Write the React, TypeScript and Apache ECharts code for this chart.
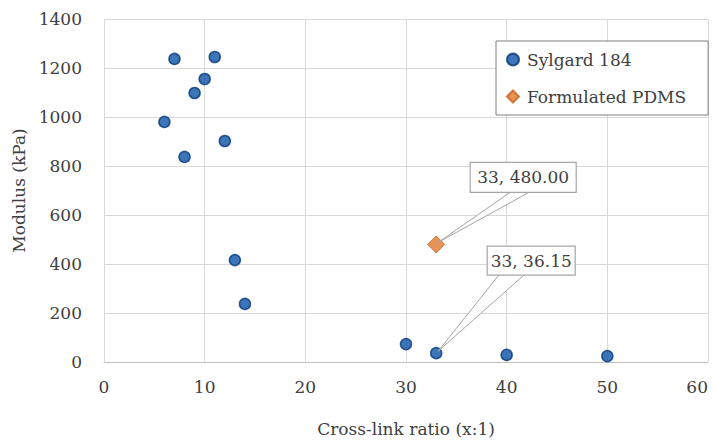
import React, { useEffect, useRef } from "react";
import * as echarts from "echarts";

const sylgardX = [6, 7, 8, 9, 10, 11, 12, 13, 14, 30, 33, 40, 50];
const sylgardY = [980, 1237, 837, 1098, 1155, 1245, 902, 416, 237, 73, 36.15, 29, 24];
const pdmsX = [33];
const pdmsY = [480];
const xTicks = { min: 0, max: 60, interval: 10 };
const yTicks = { min: 0, max: 1400, interval: 200 };
const callouts = [
  { series: "Formulated PDMS", x: 33, y: 480, text: "33, 480.00", dx: 34, dy: -82, w: 106, h: 30, b0: 0.39, b1: 0.57 },
  { series: "Sylgard 184", x: 33, y: 36.15, text: "33, 36.15", dx: 51, dy: -107, w: 88, h: 29, b0: 0.14, b1: 0.43 },
];

const FONT = "DejaVu Serif";
const FS = 17;

export default function App() {
  const ref = useRef<HTMLDivElement>(null);
  useEffect(() => {
    if (!ref.current) return;
    const chart = echarts.init(ref.current, undefined, { renderer: "svg" });
    chart.setOption({
      animation: false,
      textStyle: { fontFamily: FONT },
      grid: { left: 104, right: 5, top: 19, bottom: 83, containLabel: false, outerBoundsMode: "none" },
      xAxis: {
        type: "value",
        min: xTicks.min,
        max: xTicks.max,
        interval: xTicks.interval,
        name: "Cross-link ratio (x:1)",
        nameLocation: "middle",
        nameGap: 58,
        nameTextStyle: { fontSize: FS, color: "#404040", fontFamily: FONT },
        axisLine: { show: true, lineStyle: { color: "#bfbfbf" } },
        axisTick: { show: false },
        axisLabel: {
          fontSize: FS,
          color: "#404040",
          margin: 16,
          fontFamily: FONT,
          alignMaxLabel: "right",
          formatter: (v: number) => String(v),
        },
        splitLine: { show: true, lineStyle: { color: "#d9d9d9" } },
      },
      yAxis: {
        type: "value",
        min: yTicks.min,
        max: yTicks.max,
        interval: yTicks.interval,
        name: "Modulus (kPa)",
        nameLocation: "middle",
        nameGap: 76,
        nameTextStyle: { fontSize: FS, color: "#404040", fontFamily: FONT },
        axisLine: { show: false },
        axisTick: { show: false },
        axisLabel: { fontSize: FS, color: "#404040", margin: 22, fontFamily: FONT, formatter: (v: number) => String(v) },
        splitLine: { show: true, lineStyle: { color: "#d9d9d9" } },
      },
      legend: {
        orient: "vertical",
        left: 496,
        top: 41,
        padding: [10, 22, 10, 10],
        itemGap: 20,
        itemWidth: 12,
        itemHeight: 12,
        borderColor: "#7f7f7f",
        borderWidth: 1,
        backgroundColor: "#ffffff",
        textStyle: { fontSize: FS, color: "#404040", fontFamily: FONT, padding: [0, 0, 0, 3] },
        data: [
          { name: "Sylgard 184", icon: "circle" },
          { name: "Formulated PDMS", icon: "diamond" },
        ],
      },
      series: [
        {
          name: "Sylgard 184",
          type: "scatter",
          symbol: "circle",
          symbolSize: 11,
          itemStyle: { color: "#0d52a8", borderColor: "#083878", borderWidth: 1.5 },
          data: sylgardX.map((x, i) => [x, sylgardY[i]]),
          z: 3,
        },
        {
          name: "Formulated PDMS",
          type: "scatter",
          symbol: "diamond",
          symbolSize: 17,
          itemStyle: { color: "#e4772a", borderColor: "#c8601a", borderWidth: 1 },
          data: pdmsX.map((x, i) => [x, pdmsY[i]]),
          z: 3,
        },
      ],
    });
    const graphics: any[] = [];
    callouts.forEach((c) => {
      const p = chart.convertToPixel({ seriesName: c.series }, [c.x, c.y]) as number[];
      const bx = p[0] + c.dx;
      const by = p[1] + c.dy;
      graphics.push({
        type: "polygon",
        z: 10,
        shape: {
          points: [
            [bx + c.w * c.b0, by + c.h - 1],
            [p[0] + 2, p[1] - 2],
            [bx + c.w * c.b1, by + c.h - 1],
          ],
        },
        style: { fill: "#ffffff", stroke: "#a6a6a6", lineWidth: 1 },
      });
      graphics.push({
        type: "rect",
        z: 11,
        shape: { x: bx, y: by, width: c.w, height: c.h },
        style: { fill: "#ffffff", stroke: "#a6a6a6", lineWidth: 1.2 },
      });
      graphics.push({
        type: "text",
        z: 12,
        x: bx + c.w / 2,
        y: by + c.h / 2,
        style: {
          text: c.text,
          fontSize: FS,
          fontFamily: FONT,
          fill: "#404040",
          align: "center",
          verticalAlign: "middle",
        },
      });
    });
    chart.setOption({ graphic: graphics });
    return () => chart.dispose();
  }, []);
  return <div ref={ref} style={{ position: "absolute", left: 0, top: 0, width: 713, height: 445 }} />;
}
